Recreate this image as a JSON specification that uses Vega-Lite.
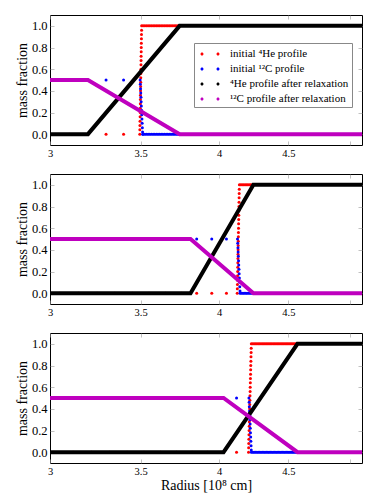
{
"$schema":"https://vega.github.io/schema/vega-lite/v6.json",
"padding":{"left":14,"top":14,"right":0,"bottom":0},
"config":{"font":"Liberation Serif","view":{"stroke":"#000","strokeWidth":1},"axis":{"labelFont":"Liberation Serif","titleFont":"Liberation Serif","labelColor":"#000","titleColor":"#000","titleFontWeight":"normal"},"legend":{"labelFont":"Liberation Serif"}},
"datasets":{
"hi":[
{"p":1,"r":3.0,"f":0},{"p":1,"r":3.1,"f":0},{"p":1,"r":3.2,"f":0},{"p":1,"r":3.3,"f":0},{"p":1,"r":3.4,"f":0},
{"p":1,"r":3.495,"f":0},{"p":1,"r":3.4954,"f":0.04},{"p":1,"r":3.4959,"f":0.08},{"p":1,"r":3.4963,"f":0.12},{"p":1,"r":3.4968,"f":0.16},{"p":1,"r":3.4972,"f":0.2},{"p":1,"r":3.4976,"f":0.24},{"p":1,"r":3.4981,"f":0.28},{"p":1,"r":3.4985,"f":0.32},{"p":1,"r":3.499,"f":0.36},{"p":1,"r":3.4994,"f":0.4},{"p":1,"r":3.4998,"f":0.44},{"p":1,"r":3.5003,"f":0.48},{"p":1,"r":3.5007,"f":0.52},{"p":1,"r":3.5012,"f":0.56},{"p":1,"r":3.5016,"f":0.6},{"p":1,"r":3.502,"f":0.64},{"p":1,"r":3.5025,"f":0.68},{"p":1,"r":3.5029,"f":0.72},{"p":1,"r":3.5034,"f":0.76},{"p":1,"r":3.5038,"f":0.8},{"p":1,"r":3.5042,"f":0.84},{"p":1,"r":3.5047,"f":0.88},{"p":1,"r":3.5051,"f":0.92},{"p":1,"r":3.5056,"f":0.96},{"p":1,"r":3.506,"f":1},
{"p":1,"r":3.515,"f":1},{"p":1,"r":3.525,"f":1},{"p":1,"r":3.535,"f":1},{"p":1,"r":3.545,"f":1},{"p":1,"r":3.555,"f":1},{"p":1,"r":3.565,"f":1},{"p":1,"r":3.575,"f":1},{"p":1,"r":3.585,"f":1},{"p":1,"r":3.595,"f":1},{"p":1,"r":3.605,"f":1},{"p":1,"r":3.615,"f":1},{"p":1,"r":3.625,"f":1},{"p":1,"r":3.635,"f":1},{"p":1,"r":3.645,"f":1},{"p":1,"r":3.655,"f":1},{"p":1,"r":3.665,"f":1},{"p":1,"r":3.675,"f":1},{"p":1,"r":3.685,"f":1},{"p":1,"r":3.695,"f":1},{"p":1,"r":3.705,"f":1},{"p":1,"r":3.715,"f":1},{"p":1,"r":3.725,"f":1},{"p":1,"r":3.735,"f":1},{"p":1,"r":3.745,"f":1},
{"p":2,"r":3.05,"f":0},{"p":2,"r":3.15,"f":0},{"p":2,"r":3.25,"f":0},{"p":2,"r":3.35,"f":0},{"p":2,"r":3.45,"f":0},{"p":2,"r":3.55,"f":0},{"p":2,"r":3.65,"f":0},{"p":2,"r":3.75,"f":0},{"p":2,"r":3.85,"f":0},{"p":2,"r":3.95,"f":0},{"p":2,"r":4.05,"f":0},
{"p":2,"r":4.125,"f":0},{"p":2,"r":4.1256,"f":0.04},{"p":2,"r":4.1262,"f":0.08},{"p":2,"r":4.1268,"f":0.12},{"p":2,"r":4.1274,"f":0.16},{"p":2,"r":4.128,"f":0.2},{"p":2,"r":4.1286,"f":0.24},{"p":2,"r":4.1292,"f":0.28},{"p":2,"r":4.1298,"f":0.32},{"p":2,"r":4.1304,"f":0.36},{"p":2,"r":4.131,"f":0.4},{"p":2,"r":4.1316,"f":0.44},{"p":2,"r":4.1322,"f":0.48},{"p":2,"r":4.1328,"f":0.52},{"p":2,"r":4.1334,"f":0.56},{"p":2,"r":4.134,"f":0.6},{"p":2,"r":4.1346,"f":0.64},{"p":2,"r":4.1352,"f":0.68},{"p":2,"r":4.1358,"f":0.72},{"p":2,"r":4.1364,"f":0.76},{"p":2,"r":4.137,"f":0.8},{"p":2,"r":4.1376,"f":0.84},{"p":2,"r":4.1382,"f":0.88},{"p":2,"r":4.1388,"f":0.92},{"p":2,"r":4.1394,"f":0.96},{"p":2,"r":4.14,"f":1},
{"p":2,"r":4.15,"f":1},{"p":2,"r":4.16,"f":1},{"p":2,"r":4.17,"f":1},{"p":2,"r":4.18,"f":1},{"p":2,"r":4.19,"f":1},{"p":2,"r":4.2,"f":1},{"p":2,"r":4.21,"f":1},{"p":2,"r":4.22,"f":1},{"p":2,"r":4.23,"f":1},{"p":2,"r":4.24,"f":1},
{"p":3,"r":3.02,"f":0},{"p":3,"r":3.12,"f":0},{"p":3,"r":3.22,"f":0},{"p":3,"r":3.32,"f":0},{"p":3,"r":3.42,"f":0},{"p":3,"r":3.52,"f":0},{"p":3,"r":3.62,"f":0},{"p":3,"r":3.72,"f":0},{"p":3,"r":3.82,"f":0},{"p":3,"r":3.92,"f":0},{"p":3,"r":4.02,"f":0},{"p":3,"r":4.12,"f":0},
{"p":3,"r":4.205,"f":0},{"p":3,"r":4.2058,"f":0.04},{"p":3,"r":4.2066,"f":0.08},{"p":3,"r":4.2074,"f":0.12},{"p":3,"r":4.2082,"f":0.16},{"p":3,"r":4.209,"f":0.2},{"p":3,"r":4.2098,"f":0.24},{"p":3,"r":4.2106,"f":0.28},{"p":3,"r":4.2114,"f":0.32},{"p":3,"r":4.2122,"f":0.36},{"p":3,"r":4.213,"f":0.4},{"p":3,"r":4.2138,"f":0.44},{"p":3,"r":4.2146,"f":0.48},{"p":3,"r":4.2154,"f":0.52},{"p":3,"r":4.2162,"f":0.56},{"p":3,"r":4.217,"f":0.6},{"p":3,"r":4.2178,"f":0.64},{"p":3,"r":4.2186,"f":0.68},{"p":3,"r":4.2194,"f":0.72},{"p":3,"r":4.2202,"f":0.76},{"p":3,"r":4.221,"f":0.8},{"p":3,"r":4.2218,"f":0.84},{"p":3,"r":4.2226,"f":0.88},{"p":3,"r":4.2234,"f":0.92},{"p":3,"r":4.2242,"f":0.96},{"p":3,"r":4.225,"f":1},
{"p":3,"r":4.235,"f":1},{"p":3,"r":4.245,"f":1},{"p":3,"r":4.255,"f":1},{"p":3,"r":4.265,"f":1},{"p":3,"r":4.275,"f":1},{"p":3,"r":4.285,"f":1},{"p":3,"r":4.295,"f":1},{"p":3,"r":4.305,"f":1},{"p":3,"r":4.315,"f":1},{"p":3,"r":4.325,"f":1},{"p":3,"r":4.335,"f":1},{"p":3,"r":4.345,"f":1},{"p":3,"r":4.355,"f":1},{"p":3,"r":4.365,"f":1},{"p":3,"r":4.375,"f":1},{"p":3,"r":4.385,"f":1},{"p":3,"r":4.395,"f":1},{"p":3,"r":4.405,"f":1},{"p":3,"r":4.415,"f":1},{"p":3,"r":4.425,"f":1},{"p":3,"r":4.435,"f":1},{"p":3,"r":4.445,"f":1},{"p":3,"r":4.455,"f":1},{"p":3,"r":4.465,"f":1},{"p":3,"r":4.475,"f":1},{"p":3,"r":4.485,"f":1},{"p":3,"r":4.495,"f":1},{"p":3,"r":4.505,"f":1},{"p":3,"r":4.515,"f":1},{"p":3,"r":4.525,"f":1},{"p":3,"r":4.535,"f":1},{"p":3,"r":4.545,"f":1},{"p":3,"r":4.555,"f":1},{"p":3,"r":4.565,"f":1}
],
"ci":[
{"p":1,"r":3.0,"f":0.5},{"p":1,"r":3.1,"f":0.5},{"p":1,"r":3.2,"f":0.5},{"p":1,"r":3.3,"f":0.5},{"p":1,"r":3.4,"f":0.5},
{"p":1,"r":3.497,"f":0.5},{"p":1,"r":3.4982,"f":0.46},{"p":1,"r":3.4994,"f":0.42},{"p":1,"r":3.5006,"f":0.38},{"p":1,"r":3.5018,"f":0.34},{"p":1,"r":3.503,"f":0.3},{"p":1,"r":3.5042,"f":0.26},{"p":1,"r":3.5054,"f":0.22},{"p":1,"r":3.5066,"f":0.18},{"p":1,"r":3.5078,"f":0.14},{"p":1,"r":3.509,"f":0.1},{"p":1,"r":3.5102,"f":0.06},{"p":1,"r":3.5114,"f":0.02},{"p":1,"r":3.512,"f":0},
{"p":1,"r":3.515,"f":0},{"p":1,"r":3.525,"f":0},{"p":1,"r":3.535,"f":0},{"p":1,"r":3.545,"f":0},{"p":1,"r":3.555,"f":0},{"p":1,"r":3.565,"f":0},{"p":1,"r":3.575,"f":0},{"p":1,"r":3.585,"f":0},{"p":1,"r":3.595,"f":0},{"p":1,"r":3.605,"f":0},{"p":1,"r":3.615,"f":0},{"p":1,"r":3.625,"f":0},{"p":1,"r":3.635,"f":0},{"p":1,"r":3.645,"f":0},{"p":1,"r":3.655,"f":0},{"p":1,"r":3.665,"f":0},{"p":1,"r":3.675,"f":0},{"p":1,"r":3.685,"f":0},{"p":1,"r":3.695,"f":0},{"p":1,"r":3.705,"f":0},{"p":1,"r":3.715,"f":0},{"p":1,"r":3.725,"f":0},{"p":1,"r":3.735,"f":0},{"p":1,"r":3.745,"f":0},
{"p":2,"r":3.05,"f":0.5},{"p":2,"r":3.15,"f":0.5},{"p":2,"r":3.25,"f":0.5},{"p":2,"r":3.35,"f":0.5},{"p":2,"r":3.45,"f":0.5},{"p":2,"r":3.55,"f":0.5},{"p":2,"r":3.65,"f":0.5},{"p":2,"r":3.75,"f":0.5},{"p":2,"r":3.85,"f":0.5},{"p":2,"r":3.95,"f":0.5},{"p":2,"r":4.05,"f":0.5},
{"p":2,"r":4.127,"f":0.5},{"p":2,"r":4.1284,"f":0.46},{"p":2,"r":4.1299,"f":0.42},{"p":2,"r":4.1313,"f":0.38},{"p":2,"r":4.1328,"f":0.34},{"p":2,"r":4.1342,"f":0.3},{"p":2,"r":4.1356,"f":0.26},{"p":2,"r":4.1371,"f":0.22},{"p":2,"r":4.1385,"f":0.18},{"p":2,"r":4.14,"f":0.14},{"p":2,"r":4.1414,"f":0.1},{"p":2,"r":4.1428,"f":0.06},{"p":2,"r":4.1443,"f":0.02},{"p":2,"r":4.145,"f":0},
{"p":2,"r":4.155,"f":0},{"p":2,"r":4.165,"f":0},{"p":2,"r":4.175,"f":0},{"p":2,"r":4.185,"f":0},{"p":2,"r":4.195,"f":0},{"p":2,"r":4.205,"f":0},{"p":2,"r":4.215,"f":0},{"p":2,"r":4.225,"f":0},{"p":2,"r":4.235,"f":0},
{"p":3,"r":3.02,"f":0.5},{"p":3,"r":3.12,"f":0.5},{"p":3,"r":3.22,"f":0.5},{"p":3,"r":3.32,"f":0.5},{"p":3,"r":3.42,"f":0.5},{"p":3,"r":3.52,"f":0.5},{"p":3,"r":3.62,"f":0.5},{"p":3,"r":3.72,"f":0.5},{"p":3,"r":3.82,"f":0.5},{"p":3,"r":3.92,"f":0.5},{"p":3,"r":4.02,"f":0.5},{"p":3,"r":4.12,"f":0.5},
{"p":3,"r":4.208,"f":0.5},{"p":3,"r":4.2094,"f":0.46},{"p":3,"r":4.2107,"f":0.42},{"p":3,"r":4.2121,"f":0.38},{"p":3,"r":4.2134,"f":0.34},{"p":3,"r":4.2148,"f":0.3},{"p":3,"r":4.2162,"f":0.26},{"p":3,"r":4.2175,"f":0.22},{"p":3,"r":4.2189,"f":0.18},{"p":3,"r":4.2202,"f":0.14},{"p":3,"r":4.2216,"f":0.1},{"p":3,"r":4.223,"f":0.06},{"p":3,"r":4.2243,"f":0.02},{"p":3,"r":4.225,"f":0},
{"p":3,"r":4.235,"f":0},{"p":3,"r":4.245,"f":0},{"p":3,"r":4.255,"f":0},{"p":3,"r":4.265,"f":0},{"p":3,"r":4.275,"f":0},{"p":3,"r":4.285,"f":0},{"p":3,"r":4.295,"f":0},{"p":3,"r":4.305,"f":0},{"p":3,"r":4.315,"f":0},{"p":3,"r":4.325,"f":0},{"p":3,"r":4.335,"f":0},{"p":3,"r":4.345,"f":0},{"p":3,"r":4.355,"f":0},{"p":3,"r":4.365,"f":0},{"p":3,"r":4.375,"f":0},{"p":3,"r":4.385,"f":0},{"p":3,"r":4.395,"f":0},{"p":3,"r":4.405,"f":0},{"p":3,"r":4.415,"f":0},{"p":3,"r":4.425,"f":0},{"p":3,"r":4.435,"f":0},{"p":3,"r":4.445,"f":0},{"p":3,"r":4.455,"f":0},{"p":3,"r":4.465,"f":0},{"p":3,"r":4.475,"f":0},{"p":3,"r":4.485,"f":0},{"p":3,"r":4.495,"f":0},{"p":3,"r":4.505,"f":0},{"p":3,"r":4.515,"f":0},{"p":3,"r":4.525,"f":0},{"p":3,"r":4.535,"f":0},{"p":3,"r":4.545,"f":0},{"p":3,"r":4.555,"f":0},{"p":3,"r":4.565,"f":0}
],
"hr":[
{"p":1,"r":3.0,"f":0},{"p":1,"r":3.2,"f":0},{"p":1,"r":3.74,"f":1},{"p":1,"r":5.1,"f":1},
{"p":2,"r":3.0,"f":0},{"p":2,"r":3.81,"f":0},{"p":2,"r":4.24,"f":1},{"p":2,"r":5.1,"f":1},
{"p":3,"r":3.0,"f":0},{"p":3,"r":4.03,"f":0},{"p":3,"r":4.57,"f":1},{"p":3,"r":5.1,"f":1}
],
"cr":[
{"p":1,"r":3.0,"f":0.5},{"p":1,"r":3.2,"f":0.5},{"p":1,"r":3.74,"f":0},{"p":1,"r":5.1,"f":0},
{"p":2,"r":3.0,"f":0.5},{"p":2,"r":3.81,"f":0.5},{"p":2,"r":4.24,"f":0},{"p":2,"r":5.1,"f":0},
{"p":3,"r":3.0,"f":0.5},{"p":3,"r":4.03,"f":0.5},{"p":3,"r":4.57,"f":0},{"p":3,"r":5.1,"f":0}
]
},
"spacing":29,
"bounds":"flush",
"resolve":{"scale":{"color":"independent"},"legend":{"color":"independent"}},
"vconcat":[
{"width":312,"height":130,
"resolve":{"axis":{"x":"independent","y":"independent"}},
"layer":[
{"data":{"name":"hi"},"transform":[{"filter":"datum.p==1"}],"mark":{"type":"circle","size":9,"opacity":1,"clip":true},
"encoding":{
"x":{"field":"r","type":"quantitative","scale":{"type":"log","domain":[3,5.1],"nice":false},"axis":{"values":[3,3.5,4,4.5,5],"format":"~g","labelExpr":"datum.value==5?'':datum.label","grid":false,"domain":false,"tickSize":-4,"tickColor":"#999","tickWidth":0.6,"labelPadding":7,"labelFontSize":10.5,"labelFlush":false,"title":null}},
"y":{"field":"f","type":"quantitative","scale":{"domain":[-0.1,1.1],"nice":false,"zero":false},"axis":{"values":[0,0.2,0.4,0.6,0.8,1],"format":".1f","grid":false,"domain":false,"tickSize":-4,"tickColor":"#999","tickWidth":0.6,"labelPadding":7,"labelFontSize":12.5,"title":"mass fraction","titleFontSize":14,"titlePadding":2}},
"color":{"datum":"initial ⁴He profile","type":"nominal","scale":{"domain":["initial ⁴He profile","initial ¹²C profile","⁴He profile after relaxation","¹²C profile after relaxation"],"range":["#ff0000","#0000ff","#000000","#bf00bf"]},
"legend":{"orient":"none","legendX":144,"legendY":28,"title":null,"symbolType":"M-1.19,0a0.19,0.19 0 1,0 0.38,0a0.19,0.19 0 1,0 -0.38,0M0.81,0a0.19,0.19 0 1,0 0.38,0a0.19,0.19 0 1,0 -0.38,0","symbolSize":256,"symbolStrokeWidth":0,"padding":3,"symbolOffset":5,"labelOffset":12,"rowPadding":2,"labelFont":"Liberation Serif","labelFontSize":11,"labelColor":"#000","strokeColor":"#888","fillColor":"#fff"}}}},
{"data":{"name":"ci"},"transform":[{"filter":"datum.p==1"}],"mark":{"type":"circle","size":9,"opacity":1,"clip":true},
"encoding":{"x":{"field":"r","type":"quantitative","axis":null},"y":{"field":"f","type":"quantitative","axis":null},"color":{"datum":"initial ¹²C profile","type":"nominal"}}},
{"data":{"name":"hr"},"transform":[{"filter":"datum.p==1"}],"mark":{"type":"line","strokeWidth":4,"clip":true},
"encoding":{"x":{"field":"r","type":"quantitative","axis":{"orient":"top","values":[3,3.5,4,4.5,5],"labels":false,"domain":false,"grid":false,"tickSize":-4,"tickColor":"#999","tickWidth":0.6,"title":null}},"y":{"field":"f","type":"quantitative","axis":{"orient":"right","values":[0,0.2,0.4,0.6,0.8,1],"labels":false,"domain":false,"grid":false,"tickSize":-4,"tickColor":"#999","tickWidth":0.6,"title":null}},"color":{"datum":"⁴He profile after relaxation","type":"nominal"}}},
{"data":{"name":"cr"},"transform":[{"filter":"datum.p==1"}],"mark":{"type":"line","strokeWidth":4,"clip":true},
"encoding":{"x":{"field":"r","type":"quantitative","axis":null},"y":{"field":"f","type":"quantitative","axis":null},"color":{"datum":"¹²C profile after relaxation","type":"nominal"}}}
]},
{"width":312,"height":130,
"resolve":{"axis":{"x":"independent","y":"independent"}},
"layer":[
{"data":{"name":"hi"},"transform":[{"filter":"datum.p==2"}],"mark":{"type":"circle","size":9,"opacity":1,"clip":true},
"encoding":{
"x":{"field":"r","type":"quantitative","scale":{"type":"log","domain":[3,5.1],"nice":false},"axis":{"values":[3,3.5,4,4.5,5],"format":"~g","labelExpr":"datum.value==5?'':datum.label","grid":false,"domain":false,"tickSize":-4,"tickColor":"#999","tickWidth":0.6,"labelPadding":7,"labelFontSize":10.5,"labelFlush":false,"title":null}},
"y":{"field":"f","type":"quantitative","scale":{"domain":[-0.1,1.1],"nice":false,"zero":false},"axis":{"values":[0,0.2,0.4,0.6,0.8,1],"format":".1f","grid":false,"domain":false,"tickSize":-4,"tickColor":"#999","tickWidth":0.6,"labelPadding":7,"labelFontSize":12.5,"title":"mass fraction","titleFontSize":14,"titlePadding":2}},
"color":{"datum":"initial ⁴He profile","type":"nominal","scale":{"domain":["initial ⁴He profile","initial ¹²C profile","⁴He profile after relaxation","¹²C profile after relaxation"],"range":["#ff0000","#0000ff","#000000","#bf00bf"]},"legend":null}}},
{"data":{"name":"ci"},"transform":[{"filter":"datum.p==2"}],"mark":{"type":"circle","size":9,"opacity":1,"clip":true},
"encoding":{"x":{"field":"r","type":"quantitative","axis":null},"y":{"field":"f","type":"quantitative","axis":null},"color":{"datum":"initial ¹²C profile","type":"nominal","legend":null}}},
{"data":{"name":"hr"},"transform":[{"filter":"datum.p==2"}],"mark":{"type":"line","strokeWidth":4,"clip":true},
"encoding":{"x":{"field":"r","type":"quantitative","axis":{"orient":"top","values":[3,3.5,4,4.5,5],"labels":false,"domain":false,"grid":false,"tickSize":-4,"tickColor":"#999","tickWidth":0.6,"title":null}},"y":{"field":"f","type":"quantitative","axis":{"orient":"right","values":[0,0.2,0.4,0.6,0.8,1],"labels":false,"domain":false,"grid":false,"tickSize":-4,"tickColor":"#999","tickWidth":0.6,"title":null}},"color":{"datum":"⁴He profile after relaxation","type":"nominal","legend":null}}},
{"data":{"name":"cr"},"transform":[{"filter":"datum.p==2"}],"mark":{"type":"line","strokeWidth":4,"clip":true},
"encoding":{"x":{"field":"r","type":"quantitative","axis":null},"y":{"field":"f","type":"quantitative","axis":null},"color":{"datum":"¹²C profile after relaxation","type":"nominal","legend":null}}}
]},
{"width":312,"height":130,
"resolve":{"axis":{"x":"independent","y":"independent"}},
"layer":[
{"data":{"name":"hi"},"transform":[{"filter":"datum.p==3"}],"mark":{"type":"circle","size":9,"opacity":1,"clip":true},
"encoding":{
"x":{"field":"r","type":"quantitative","scale":{"type":"log","domain":[3,5.1],"nice":false},"axis":{"values":[3,3.5,4,4.5,5],"format":"~g","labelExpr":"datum.value==5?'':datum.label","grid":false,"domain":false,"tickSize":-4,"tickColor":"#999","tickWidth":0.6,"labelPadding":7,"labelFontSize":10.5,"labelFlush":false,"title":"Radius [10⁸ cm]","titleFontSize":14,"titlePadding":2}},
"y":{"field":"f","type":"quantitative","scale":{"domain":[-0.1,1.1],"nice":false,"zero":false},"axis":{"values":[0,0.2,0.4,0.6,0.8,1],"format":".1f","grid":false,"domain":false,"tickSize":-4,"tickColor":"#999","tickWidth":0.6,"labelPadding":7,"labelFontSize":12.5,"title":"mass fraction","titleFontSize":14,"titlePadding":2}},
"color":{"datum":"initial ⁴He profile","type":"nominal","scale":{"domain":["initial ⁴He profile","initial ¹²C profile","⁴He profile after relaxation","¹²C profile after relaxation"],"range":["#ff0000","#0000ff","#000000","#bf00bf"]},"legend":null}}},
{"data":{"name":"ci"},"transform":[{"filter":"datum.p==3"}],"mark":{"type":"circle","size":9,"opacity":1,"clip":true},
"encoding":{"x":{"field":"r","type":"quantitative","axis":null},"y":{"field":"f","type":"quantitative","axis":null},"color":{"datum":"initial ¹²C profile","type":"nominal","legend":null}}},
{"data":{"name":"hr"},"transform":[{"filter":"datum.p==3"}],"mark":{"type":"line","strokeWidth":4,"clip":true},
"encoding":{"x":{"field":"r","type":"quantitative","axis":{"orient":"top","values":[3,3.5,4,4.5,5],"labels":false,"domain":false,"grid":false,"tickSize":-4,"tickColor":"#999","tickWidth":0.6,"title":null}},"y":{"field":"f","type":"quantitative","axis":{"orient":"right","values":[0,0.2,0.4,0.6,0.8,1],"labels":false,"domain":false,"grid":false,"tickSize":-4,"tickColor":"#999","tickWidth":0.6,"title":null}},"color":{"datum":"⁴He profile after relaxation","type":"nominal","legend":null}}},
{"data":{"name":"cr"},"transform":[{"filter":"datum.p==3"}],"mark":{"type":"line","strokeWidth":4,"clip":true},
"encoding":{"x":{"field":"r","type":"quantitative","axis":null},"y":{"field":"f","type":"quantitative","axis":null},"color":{"datum":"¹²C profile after relaxation","type":"nominal","legend":null}}}
]}
]
}
